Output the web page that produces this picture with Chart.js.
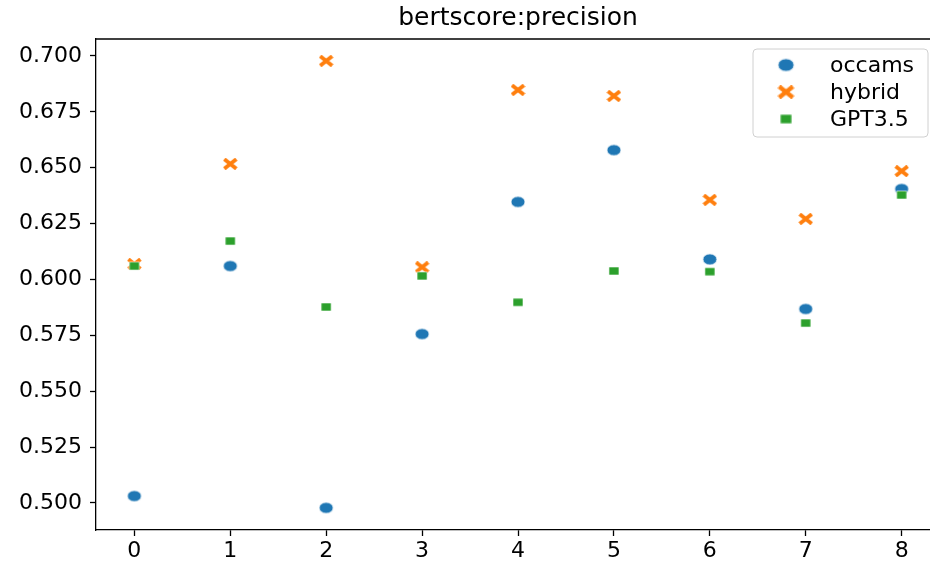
<!DOCTYPE html>
<html>
<head>
<meta charset="utf-8">
<script src="https://cdn.jsdelivr.net/npm/chart.js@4/dist/chart.umd.min.js"></script>
<style>
  html, body { margin: 0; padding: 0; background: #fff; overflow: hidden; }
  #chart { display: block; }
</style>
</head>
<body>
<canvas id="chart" width="940" height="564"></canvas>
<script>
// Data
const categories = [0, 1, 2, 3, 4, 5, 6, 7, 8];
const occams = [0.5031, 0.6060, 0.4978, 0.5756, 0.6347, 0.6579, 0.6090, 0.5868, 0.6405];
const hybrid = [0.6069, 0.6517, 0.6978, 0.6055, 0.6848, 0.6821, 0.6356, 0.6271, 0.6485];
const gpt35 = [0.6060, 0.6172, 0.5877, 0.6016, 0.5898, 0.6038, 0.6035, 0.5805, 0.6378];
const yTicks = [0.500, 0.525, 0.550, 0.575, 0.600, 0.625, 0.650, 0.675, 0.700];
const xTicks = [0, 1, 2, 3, 4, 5, 6, 7, 8];

const FONT = 'DejaVu Sans';

// Small canvases used as point markers (slightly wide, like the picture)
function makeMarker(shape, color) {
    const c = document.createElement('canvas');
    const ctx = c.getContext('2d');
    if (shape === 'circle') {
        c.width = 16; c.height = 13;
        ctx.beginPath();
        ctx.ellipse(8, 6.5, 7, 5.6, 0, 0, Math.PI * 2);
        ctx.fillStyle = color;
        ctx.fill();
        ctx.lineWidth = 0.8;
        ctx.strokeStyle = '#fff';
        ctx.stroke();
    } else if (shape === 'x') {
        c.width = 15; c.height = 12;
        ctx.strokeStyle = color;
        ctx.lineWidth = 3.8;
        ctx.lineCap = 'butt';
        ctx.beginPath();
        ctx.moveTo(1.5, 1.2); ctx.lineTo(13.5, 10.8);
        ctx.moveTo(13.5, 1.2); ctx.lineTo(1.5, 10.8);
        ctx.stroke();
    } else {
        c.width = 12; c.height = 10;
        ctx.fillStyle = color;
        ctx.fillRect(1, 1, 10, 8);
        ctx.lineWidth = 0.6;
        ctx.strokeStyle = '#fff';
        ctx.strokeRect(1, 1, 10, 8);
    }
    return c;
}

const markers = [
    makeMarker('circle', '#1f77b4'),
    makeMarker('x', '#ff7f0e'),
    makeMarker('square', '#2ca02c')
];

function toPoints(values) {
    return categories.map((x, i) => ({ x: x, y: values[i] }));
}

// Top spine + legend box drawn inside the axes
const extras = {
    id: 'extras',
    afterDraw(chart) {
        const ctx = chart.ctx;
        const a = chart.chartArea;
        ctx.save();
        ctx.strokeStyle = '#000';
        ctx.lineWidth = 1.3;
        ctx.beginPath();
        ctx.moveTo(a.left, a.top);
        ctx.lineTo(a.right + 2, a.top);
        ctx.stroke();

        // legend
        const w = 175, h = 88;
        const x0 = a.right - 12 - w;
        const y0 = a.top + 10;
        ctx.beginPath();
        ctx.roundRect(x0, y0, w, h, 4);
        ctx.fillStyle = 'rgba(255,255,255,0.8)';
        ctx.fill();
        ctx.strokeStyle = '#d0d0d0';
        ctx.lineWidth = 1;
        ctx.stroke();

        ctx.font = '22px "' + FONT + '"';
        ctx.fillStyle = '#000';
        ctx.textBaseline = 'middle';
        const rows = [16, 43, 70];
        const k = 1.15;
        chart.data.datasets.forEach((ds, i) => {
            const m = markers[i];
            const cy = y0 + rows[i];
            const mw = m.width * k, mh = m.height * k;
            ctx.drawImage(m, x0 + 33 - mw / 2, cy - mh / 2, mw, mh);
            ctx.fillText(ds.label, x0 + 77, cy + 1);
        });
        ctx.restore();
    }
};

const axisCommon = {
    border: { display: true, color: '#000', width: 1.3 },
    grid: { display: true, drawOnChartArea: false, drawTicks: true, tickLength: 6, tickColor: '#000', tickWidth: 1.3 },
};

new Chart(document.getElementById('chart'), {
    type: 'scatter',
    data: {
        datasets: [
            { label: 'occams', data: toPoints(occams), pointStyle: markers[0], order: 2 },
            { label: 'hybrid', data: toPoints(hybrid), pointStyle: markers[1], order: 1 },
            { label: 'GPT3.5', data: toPoints(gpt35), pointStyle: markers[2], order: 0 }
        ]
    },
    options: {
        responsive: false,
        animation: false,
        devicePixelRatio: 1,
        layout: { autoPadding: false, padding: { left: 0, right: 0, top: 0, bottom: 0 } },
        plugins: {
            legend: { display: false },
            tooltip: { enabled: false },
            title: {
                display: true,
                text: 'bertscore:precision',
                color: '#000',
                fullSize: false,
                font: { family: FONT, size: 25, weight: 'normal', lineHeight: 1.2 },
                padding: { top: 3, bottom: 6 }
            }
        },
        scales: {
            x: {
                type: 'linear',
                min: -0.4,
                max: 8.4,
                ...axisCommon,
                ticks: {
                    color: '#000',
                    padding: 2,
                    font: { family: FONT, size: 22 },
                    callback: v => String(v)
                },
                afterBuildTicks: s => { s.ticks = xTicks.map(v => ({ value: v })); },
                afterFit: s => { s.height = 34; }
            },
            y: {
                type: 'linear',
                min: 0.4879,
                max: 0.7076,
                ...axisCommon,
                ticks: {
                    color: '#000',
                    padding: 8,
                    font: { family: FONT, size: 22 },
                    callback: v => v.toFixed(3)
                },
                afterBuildTicks: s => { s.ticks = yTicks.map(v => ({ value: v })); },
                afterFit: s => { s.width = 96; }
            }
        }
    },
    plugins: [extras]
});
</script>
</body>
</html>
